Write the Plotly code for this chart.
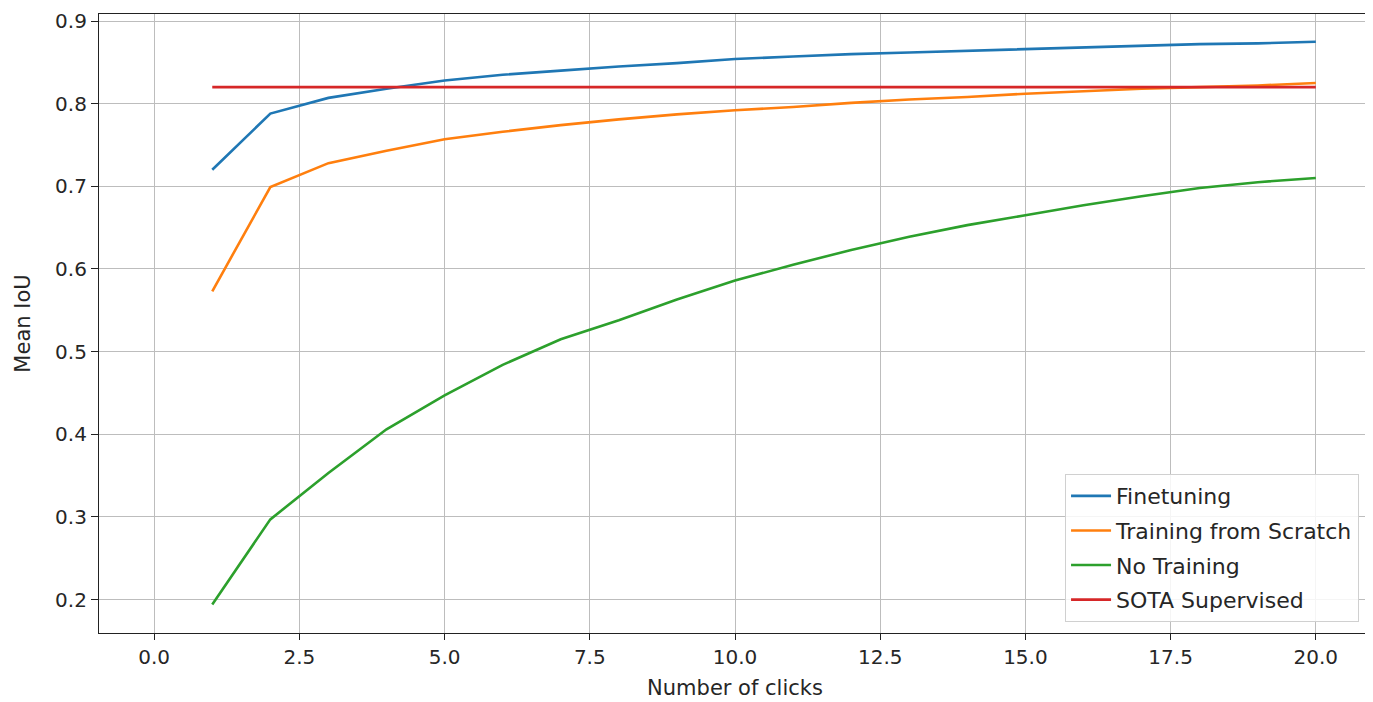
import plotly.graph_objects as go

clicks = list(range(1, 21))
finetuning = [0.720, 0.788, 0.807, 0.818, 0.828, 0.835, 0.840, 0.845, 0.849, 0.854,
              0.857, 0.860, 0.862, 0.864, 0.866, 0.868, 0.870, 0.872, 0.873, 0.875]
scratch = [0.573, 0.699, 0.728, 0.743, 0.757, 0.766, 0.774, 0.781, 0.787, 0.792,
           0.796, 0.801, 0.805, 0.808, 0.812, 0.815, 0.818, 0.820, 0.822, 0.825]
no_training = [0.194, 0.297, 0.353, 0.406, 0.447, 0.484, 0.515, 0.538, 0.563, 0.586,
               0.605, 0.623, 0.639, 0.653, 0.665, 0.677, 0.688, 0.698, 0.705, 0.710]
sota = [0.820] * 20

series = [
    ("Finetuning", finetuning, "#1f77b4"),
    ("Training from Scratch", scratch, "#ff7f0e"),
    ("No Training", no_training, "#2ca02c"),
    ("SOTA Supervised", sota, "#d62728"),
]

fig = go.Figure()
for i, (name, ys, col) in enumerate(series):
    fig.add_trace(go.Scatter(x=clicks, y=ys, mode="lines", name=name,
                             legendgroup=f"g{i}",
                             line=dict(color=col, width=2.6)))

font = "DejaVu Sans, sans-serif"
fig.update_layout(
    width=1365, height=694,
    margin=dict(l=91, r=1, t=4, b=69),
    paper_bgcolor="white", plot_bgcolor="white",
    font=dict(family=font, size=20, color="#262626"),
    showlegend=True,
    legend=dict(x=0.9906, y=0.0177, xanchor="right", yanchor="bottom",
                bgcolor="rgba(255,255,255,0.85)", bordercolor="#d0d0d0", borderwidth=1,
                font=dict(size=22, color="#262626"), tracegroupgap=3,
                itemwidth=40),
)
fig.update_xaxes(
    range=[-0.95, 20.95], tickmode="array",
    tickvals=[0, 2.5, 5, 7.5, 10, 12.5, 15, 17.5, 20],
    ticktext=["0.0", "2.5", "5.0", "7.5", "10.0", "12.5", "15.0", "17.5", "20.0"],
    showgrid=True, gridcolor="#bdbdbd", gridwidth=1.3,
    showline=True, linecolor="#222222", linewidth=1.2, mirror=True,
    ticks="outside", ticklen=6, tickcolor="#222222", zeroline=False,
    ticklabeloverflow="allow",
    title=dict(text="Number of clicks", font=dict(size=21), standoff=12),
)
fig.update_yaxes(
    range=[0.1595, 0.9085], tickmode="array",
    tickvals=[0.2, 0.3, 0.4, 0.5, 0.6, 0.7, 0.8, 0.9],
    ticktext=["0.2", "0.3", "0.4", "0.5", "0.6", "0.7", "0.8", "0.9"],
    showgrid=True, gridcolor="#bdbdbd", gridwidth=1.3,
    showline=True, linecolor="#222222", linewidth=1.2, mirror=True,
    ticks="outside", ticklen=7, tickcolor="#222222", zeroline=False,
    ticklabeloverflow="allow",
    title=dict(text="Mean IoU", font=dict(size=21), standoff=18),
)

fig.write_html("out.html")
